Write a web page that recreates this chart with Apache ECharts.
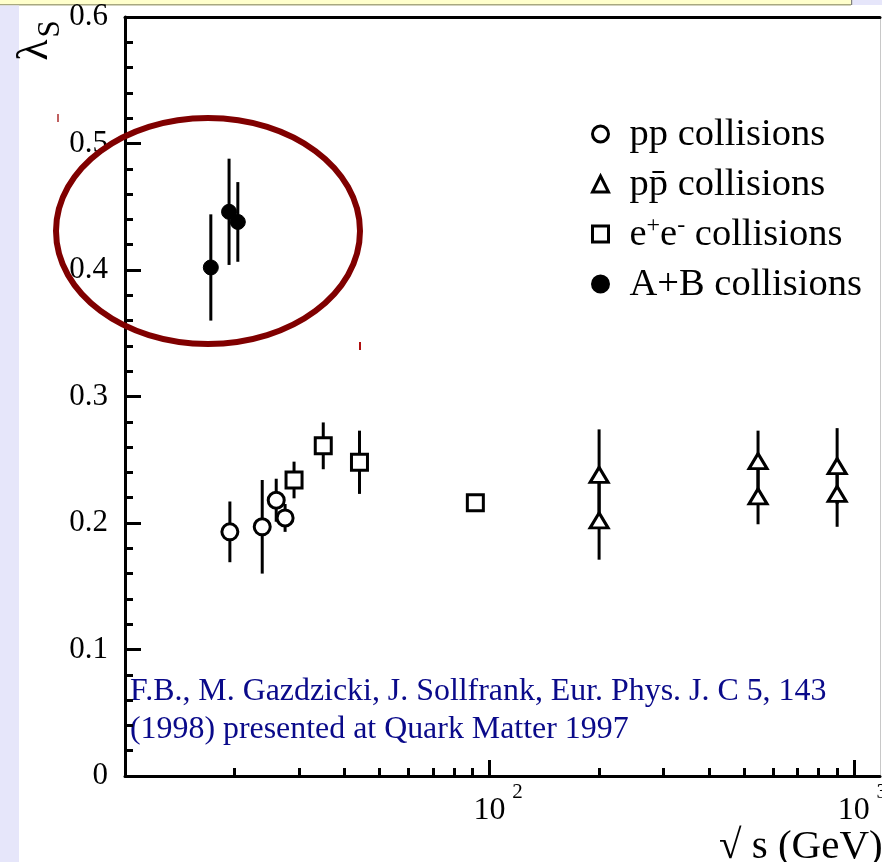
<!DOCTYPE html>
<html>
<head>
<meta charset="utf-8">
<script src="https://cdn.jsdelivr.net/npm/echarts@6/dist/echarts.min.js"></script>
<style>
  html, body { margin: 0; padding: 0; background: #fff; }
  #chart { width: 882px; height: 862px; }
</style>
</head>
<body>
<div id="chart"></div>
<script>
// Strangeness suppression factor lambda_s versus collision energy sqrt(s) in GeV
const sqrtsPP = [19.4, 23.8, 26.0, 27.5];
const lambdaPP = [0.193, 0.197, 0.218, 0.204];
const errPP = [0.024, 0.037, 0.017, 0.011];

const sqrtsPPbar = [200, 200, 546, 546, 900, 900];
const lambdaPPbar = [0.238, 0.202, 0.249, 0.221, 0.245, 0.223];
const errPPbar = [0.036, 0.031, 0.024, 0.022, 0.030, 0.026];

const sqrtsEE = [29.1, 35.0, 44.0, 91.5];
const lambdaEE = [0.234, 0.261, 0.248, 0.216];
const errEE = [0.0145, 0.0185, 0.025, 0];

const sqrtsAB = [17.2, 19.3, 20.4];
const lambdaAB = [0.402, 0.446, 0.438];
const errAB = [0.042, 0.042, 0.0315];

const xMajorTicks = [100, 1000];
const xMinorTicks = [20, 30, 40, 50, 60, 70, 80, 90, 200, 300, 400, 500, 600, 700, 800, 900];

const seriesNames = ['pp collisions', 'pp\u0304 collisions', 'e+e- collisions', 'A+B collisions'];
const legendLabels = {
  'pp collisions': '{t|pp collisions}',
  'pp\u0304 collisions': '{t|pp\u0304 collisions}',
  'e+e- collisions': '{t|e}{u|+}{v|e}{u|-}{v| collisions}',
  'A+B collisions': '{t|A+B collisions}'
};

const annotationLines = [
  'F.B., M. Gazdzicki, J. Sollfrank, Eur. Phys. J. C 5, 143',
  '(1998) presented at Quark Matter 1997'
];

const SERIF = '"Liberation Serif", "Times New Roman", serif';

function points(xs, ys) {
  return xs.map((x, i) => [x, ys[i]]);
}
function bars(xs, ys, es) {
  return xs.map((x, i) => [x, ys[i] - es[i], ys[i] + es[i]]).filter(d => d[2] > d[1]);
}

const errorBars = [].concat(
  bars(sqrtsPP, lambdaPP, errPP),
  bars(sqrtsPPbar, lambdaPPbar, errPPbar),
  bars(sqrtsEE, lambdaEE, errEE),
  bars(sqrtsAB, lambdaAB, errAB)
);

const X_MIN = 10, X_MAX = 1180;
const axisBlack = { color: '#000', width: 3 };

const chart = echarts.init(document.getElementById('chart'), null, { renderer: 'canvas' });

const option = {
  backgroundColor: '#fff',
  animation: false,
  grid: { left: 125, top: 17, width: 755, height: 759, containLabel: false, outerBoundsMode: 'none' },
  xAxis: [
    {
      // decades: long ticks and the "10" part of each label
      type: 'log', logBase: 10, min: X_MIN, max: X_MAX, position: 'bottom',
      axisLine: { show: true, onZero: false, lineStyle: axisBlack },
      axisTick: { show: true, inside: true, length: 16, lineStyle: axisBlack, customValues: xMajorTicks },
      axisLabel: {
        show: true, customValues: xMajorTicks, margin: 19, color: '#000',
        fontFamily: SERIF, fontSize: 32, lineHeight: 32,
        formatter: () => '10'
      },
      splitLine: { show: false }
    },
    {
      // intermediate ticks and the exponent of each decade label
      type: 'log', logBase: 10, min: X_MIN, max: X_MAX, position: 'bottom',
      axisLine: { show: false, onZero: false },
      axisTick: { show: true, inside: true, length: 8, lineStyle: axisBlack, customValues: xMinorTicks },
      axisLabel: {
        show: true, customValues: xMajorTicks, margin: 6, color: '#000',
        fontFamily: SERIF, fontSize: 21, lineHeight: 21, padding: [0, 0, 0, 56],
        formatter: v => String(Math.round(Math.log10(v)))
      },
      splitLine: { show: false }
    },
    {
      type: 'log', logBase: 10, min: X_MIN, max: X_MAX, position: 'top',
      axisLine: { show: true, onZero: false, lineStyle: axisBlack },
      axisTick: { show: false },
      axisLabel: { show: false },
      splitLine: { show: false }
    }
  ],
  yAxis: {
    type: 'value', min: 0, max: 0.6, interval: 0.1,
    axisLine: { show: true, onZero: false, lineStyle: axisBlack },
    axisTick: { show: true, inside: true, length: 16, lineStyle: axisBlack },
    minorTick: { show: true, splitNumber: 5, length: 8, lineStyle: axisBlack },
    axisLabel: {
      margin: 17, color: '#000', fontFamily: SERIF, fontSize: 31,
      formatter: v => (v === 0 ? '0' : v.toFixed(1))
    },
    splitLine: { show: false }
  },
  legend: {
    orient: 'vertical', left: 591, top: 109, padding: 0, itemGap: 5,
    itemWidth: 16, itemHeight: 16, selectedMode: false,
    itemStyle: { borderWidth: 3, borderColor: '#000' },
    data: seriesNames,
    formatter: name => legendLabels[name],
    textStyle: {
      rich: {
        t: { fontFamily: SERIF, fontSize: 38.5, lineHeight: 40, padding: [6, 0, 0, 16], verticalAlign: 'bottom', color: '#000' },
        v: { fontFamily: SERIF, fontSize: 38.5, lineHeight: 40, padding: [6, 0, 0, 0], verticalAlign: 'bottom', color: '#000' },
        u: { fontFamily: SERIF, fontSize: 24, lineHeight: 24, verticalAlign: 'top', color: '#000' }
      }
    }
  },
  series: [
    {
      name: 'errors', type: 'custom', xAxisIndex: 0, yAxisIndex: 0, z: 1,
      data: errorBars,
      encode: { x: 0, y: [1, 2] },
      renderItem: (params, api) => {
        const lo = api.coord([api.value(0), api.value(1)]);
        const hi = api.coord([api.value(0), api.value(2)]);
        return {
          type: 'line',
          shape: { x1: lo[0], y1: lo[1], x2: hi[0], y2: hi[1] },
          style: { stroke: '#000', lineWidth: 3 }
        };
      },
      silent: true
    },
    {
      name: seriesNames[0], type: 'scatter', z: 3, symbol: 'circle', symbolSize: 16,
      itemStyle: { color: '#fff', borderColor: '#000', borderWidth: 3, opacity: 1 },
      data: points(sqrtsPP, lambdaPP)
    },
    {
      name: seriesNames[1], type: 'scatter', z: 3, symbol: 'triangle', symbolSize: [18, 15],
      itemStyle: { color: '#fff', borderColor: '#000', borderWidth: 3, opacity: 1 },
      data: points(sqrtsPPbar, lambdaPPbar)
    },
    {
      name: seriesNames[2], type: 'scatter', z: 3, symbol: 'rect', symbolSize: 16,
      itemStyle: { color: '#fff', borderColor: '#000', borderWidth: 3, opacity: 1 },
      data: points(sqrtsEE, lambdaEE)
    },
    {
      name: seriesNames[3], type: 'scatter', z: 3, symbol: 'circle', symbolSize: 15,
      itemStyle: { color: '#000', borderColor: '#000', borderWidth: 1, opacity: 1 },
      data: points(sqrtsAB, lambdaAB)
    }
  ],
  graphic: [
    // slide frame: yellow title strip and lavender side strips
    { type: 'rect', z: -10, shape: { x: 0, y: 0, width: 851, height: 4 }, style: { fill: '#FFFFCC' } },
    { type: 'rect', z: -10, shape: { x: 0, y: 4, width: 851, height: 1.5 }, style: { fill: '#A8A880' } },
    { type: 'rect', z: -10, shape: { x: 851, y: 0, width: 1.5, height: 5 }, style: { fill: '#808080' } },
    { type: 'rect', z: -10, shape: { x: 852.5, y: 0, width: 30, height: 5 }, style: { fill: '#E6E6FA' } },
    { type: 'rect', z: -10, shape: { x: 0, y: 5.5, width: 19, height: 857 }, style: { fill: '#E6E6FA' } },
    { type: 'rect', z: -10, shape: { x: 880, y: 17, width: 1, height: 760 }, style: { fill: '#C8C8C8' } },
    // axis titles
    {
      type: 'text', x: 35, y: 50, rotation: Math.PI / 2,
      style: { text: 'λ', font: '44px ' + SERIF, fill: '#000', textAlign: 'center', textVerticalAlign: 'middle' }
    },
    {
      type: 'text', x: 51, y: 29, rotation: Math.PI / 2,
      style: { text: 'S', font: '31px ' + SERIF, fill: '#000', textAlign: 'center', textVerticalAlign: 'middle' }
    },
    {
      type: 'text', x: 719, y: 847,
      style: { text: '\u221A s (GeV)', font: '41px ' + SERIF, fill: '#000', textAlign: 'left', textVerticalAlign: 'middle' }
    },
    // reference note
    {
      type: 'text', x: 130, y: 692,
      style: { text: annotationLines[0], font: '31.9px ' + SERIF, fill: '#0A0A8A', textAlign: 'left', textVerticalAlign: 'middle' }
    },
    {
      type: 'text', x: 130, y: 730,
      style: { text: annotationLines[1], font: '31.9px ' + SERIF, fill: '#0A0A8A', textAlign: 'left', textVerticalAlign: 'middle' }
    },
    // highlight ring around the nucleus-nucleus points
    {
      type: 'ellipse', z: 100,
      shape: { cx: 208, cy: 231, rx: 152, ry: 113 },
      style: { fill: 'none', stroke: '#800000', lineWidth: 6 }
    },
    { type: 'rect', z: 100, shape: { x: 57, y: 114, width: 2, height: 8 }, style: { fill: '#C06060' } },
    { type: 'rect', z: 100, shape: { x: 359, y: 342, width: 2, height: 8 }, style: { fill: '#B01010' } }
  ]
};

chart.setOption(option);
</script>
</body>
</html>
